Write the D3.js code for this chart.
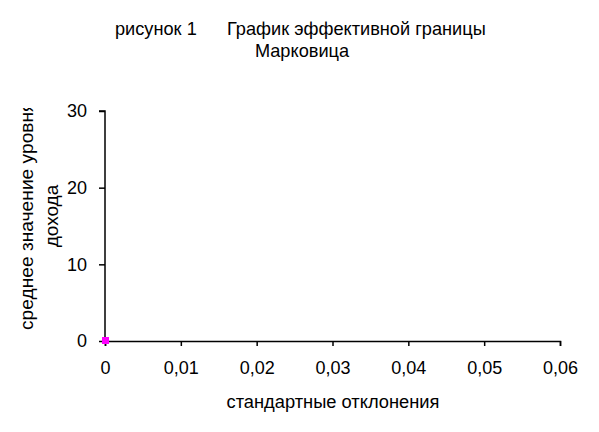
<!DOCTYPE html>
<html><head><meta charset="utf-8">
<script src="https://cdn.jsdelivr.net/npm/d3@7"></script>
<style>body{margin:0;background:#fff}text{font-family:"Liberation Sans",Arial,sans-serif;fill:#000}</style>
</head><body><svg id="c" width="599" height="432"></svg>
<script>
const xTicks = [0, 0.01, 0.02, 0.03, 0.04, 0.05, 0.06];
const yTicks = [0, 10, 20, 30];
const pointsX = [0];
const pointsY = [0];
const titleParts = ["рисунок 1", "График эффективной границы"];
const titleLine2 = "Марковица";
const yLabelLines = ["среднее значение уровня", "дохода"];
const xLabel = "стандартные отклонения";

const svg = d3.select("#c");
const x = d3.scaleLinear().domain([0, 0.06]).range([105, 560]);
const y = d3.scaleLinear().domain([0, 30]).range([341, 111]);
const fmt = d => String(d).replace(".", ",");

const xa = svg.append("g").attr("transform", "translate(0,341)")
  .call(d3.axisBottom(x).tickValues(xTicks).tickFormat(fmt).tickSizeOuter(0).tickSize(5).tickPadding(15));
const ya = svg.append("g").attr("transform", "translate(105,0)")
  .call(d3.axisLeft(y).tickValues(yTicks).tickFormat(d => d).tickSizeOuter(0).tickSize(6).tickPadding(12));
[xa, ya].forEach(a => {
  a.select(".domain").attr("stroke", "#000").attr("stroke-width", 1.5);
  a.selectAll(".tick line").attr("stroke", "#000").attr("stroke-width", 1.5);
  a.selectAll(".tick text").attr("font-size", 18).attr("font-family", "Liberation Sans, Arial, sans-serif").attr("fill", "#000");
});
ya.select(".domain").attr("d", `M-6,${y(30)}H0V${y(0)}`);

svg.selectAll("rect.pt").data(pointsX).enter().append("rect").attr("class", "pt")
  .attr("x", (d) => x(d) - 3).attr("y", (d, i) => y(pointsY[i]) - 4)
  .attr("width", 7).attr("height", 7).attr("fill", "#FF00FF");

const t1 = svg.append("text").attr("y", 35).attr("font-size", 18.2);
t1.append("tspan").attr("x", 115).text(titleParts[0]);
t1.append("tspan").attr("x", 227).text(titleParts[1]);
svg.append("text").attr("x", 302).attr("y", 57).attr("text-anchor", "middle")
  .attr("font-size", 18.2).text(titleLine2);

svg.append("defs").append("clipPath").attr("id", "yc").append("rect")
  .attr("x", 0).attr("y", 108).attr("width", 90).attr("height", 330);
const yl = svg.append("g").attr("clip-path", "url(#yc)");
yl.append("text").attr("transform", "translate(33,330) rotate(-90)").attr("text-anchor", "start")
  .attr("font-size", 19.2).text(yLabelLines[0]);
yl.append("text").attr("transform", "translate(58,216) rotate(-90)").attr("text-anchor", "middle")
  .attr("font-size", 19).text(yLabelLines[1]);

svg.append("text").attr("x", 333).attr("y", 408).attr("text-anchor", "middle")
  .attr("font-size", 18.3).text(xLabel);
</script></body></html>
